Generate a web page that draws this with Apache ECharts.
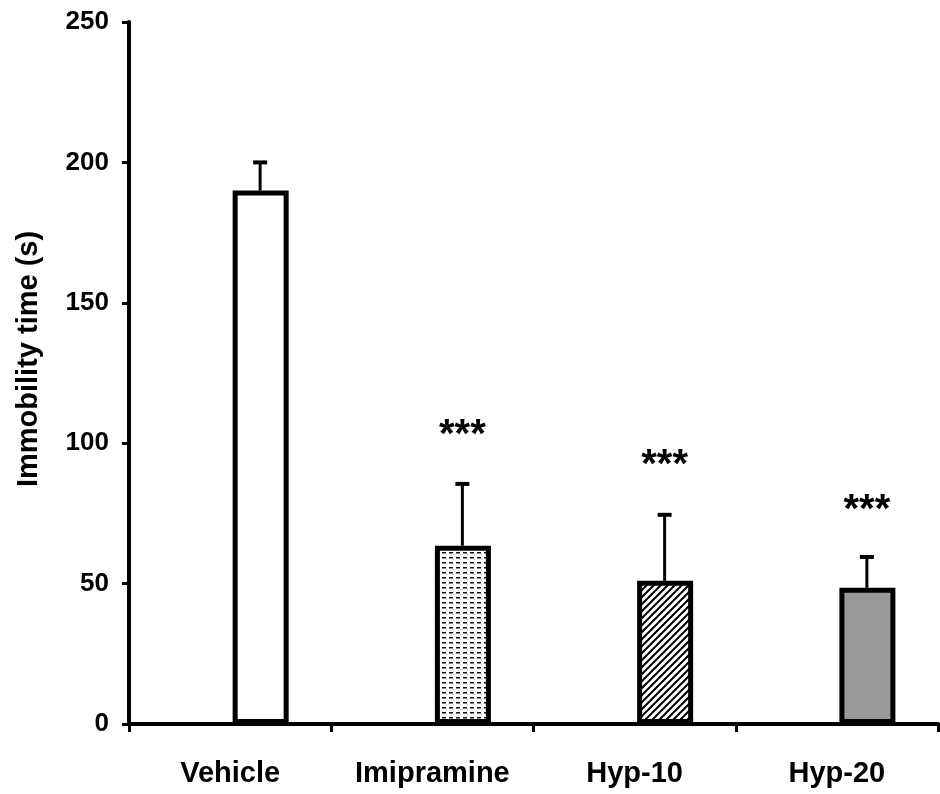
<!DOCTYPE html>
<html>
<head>
<meta charset="utf-8">
<script src="https://cdn.jsdelivr.net/npm/echarts@6/dist/echarts.min.js"></script>
<style>
html,body{margin:0;padding:0;background:#fff;}
#chart{width:940px;height:794px;}
</style>
</head>
<body>
<div id="chart"></div>
<script>
// ---- data ----
var categories = ['Vehicle', 'Imipramine', 'Hyp-10', 'Hyp-20'];
var meanValues = [190, 63.5, 51, 48.5];
var errValues = [10, 22, 23.5, 11];
var starLabels = ['', '***', '***', '***'];
var starValues = [null, 102.5, 92, 76];
var yTicks = [0, 50, 100, 150, 200, 250];

// ---- patterns ----
function dashPattern() {
  var c = document.createElement('canvas');
  c.width = 7; c.height = 5;
  var g = c.getContext('2d');
  g.fillStyle = '#fff'; g.fillRect(0, 0, 7, 5);
  g.fillStyle = '#111'; g.fillRect(1, 2, 4, 1.5);
  g.fillStyle = '#bbb'; g.fillRect(5, 4, 1, 1);
  return c;
}
function hatchPattern() {
  var c = document.createElement('canvas');
  c.width = 7; c.height = 7;
  var g = c.getContext('2d');
  g.fillStyle = '#fff'; g.fillRect(0, 0, 7, 7);
  g.strokeStyle = '#000'; g.lineWidth = 2;
  g.beginPath();
  g.moveTo(-1, 8); g.lineTo(8, -1);
  g.moveTo(-4, 4); g.lineTo(4, -4);
  g.moveTo(3, 11); g.lineTo(11, 3);
  g.stroke();
  return c;
}
var fills = [
  '#ffffff',
  { image: dashPattern(), repeat: 'repeat' },
  { image: hatchPattern(), repeat: 'repeat' },
  '#999999'
];

var FONT = '"Liberation Sans", Arial, sans-serif';
var BAR_OFFSET = 30;

var chart = echarts.init(document.getElementById('chart'));
chart.setOption({
  animation: false,
  backgroundColor: '#fff',
  grid: { left: 129, right: 2, top: 22, bottom: 70 },
  xAxis: {
    type: 'category',
    data: categories,
    axisLine: { lineStyle: { color: '#000', width: 4 } },
    axisTick: { show: true, length: 8, lineStyle: { color: '#000', width: 3 } },
    axisLabel: { color: '#000', fontSize: 29, fontWeight: 'bold', fontFamily: FONT, margin: 35 },
    splitLine: { show: false }
  },
  yAxis: {
    type: 'value',
    min: yTicks[0], max: yTicks[yTicks.length - 1], interval: 50,
    name: 'Immobility time (s)',
    nameLocation: 'middle',
    nameGap: 86,
    nameTextStyle: { color: '#000', fontSize: 29, fontFamily: FONT, fontWeight: 'bold', padding: [0, 0, 0, 28] },
    axisLine: { show: true, lineStyle: { color: '#000', width: 4 } },
    axisTick: { show: true, length: 7, lineStyle: { color: '#000', width: 3 } },
    axisLabel: { color: '#000', fontSize: 26, fontWeight: 'bold', fontFamily: FONT, margin: 20 },
    splitLine: { show: false }
  },
  series: [
    {
      type: 'bar',
      data: categories.map(function () { return 0; }),
      barWidth: 56,
      barGap: '9%',
      itemStyle: { color: 'transparent' },
      silent: true
    },
    {
      type: 'bar',
      barWidth: 56,
      data: meanValues.map(function (v, i) {
        return { value: v, itemStyle: { color: fills[i], borderColor: '#000', borderWidth: 5 } };
      }),
      z: 3
    },
    {
      type: 'custom',
      data: meanValues.map(function (v, i) { return [i, v, v + errValues[i]]; }),
      renderItem: function (params, api) {
        var base = api.coord([api.value(0), api.value(1)]);
        var top = api.coord([api.value(0), api.value(2)]);
        var x = base[0] + BAR_OFFSET;
        return {
          type: 'group',
          children: [
            { type: 'line', shape: { x1: x, y1: base[1], x2: x, y2: top[1] }, style: { stroke: '#000', lineWidth: 3 } },
            { type: 'line', shape: { x1: x - 7, y1: top[1], x2: x + 7, y2: top[1] }, style: { stroke: '#000', lineWidth: 4 } }
          ]
        };
      },
      z: 2
    },
    {
      type: 'custom',
      data: starValues.map(function (v, i) { return [i, v == null ? 0 : v, starLabels[i]]; }),
      renderItem: function (params, api) {
        var i = params.dataIndex;
        if (!starLabels[i]) return null;
        var p = api.coord([api.value(0), api.value(1)]);
        return {
          type: 'text',
          style: {
            x: p[0] + BAR_OFFSET, y: p[1],
            text: starLabels[i],
            fill: '#000',
            font: 'bold 40px ' + FONT,
            align: 'center', verticalAlign: 'middle'
          }
        };
      },
      z: 4
    }
  ]
});
</script>
</body>
</html>
